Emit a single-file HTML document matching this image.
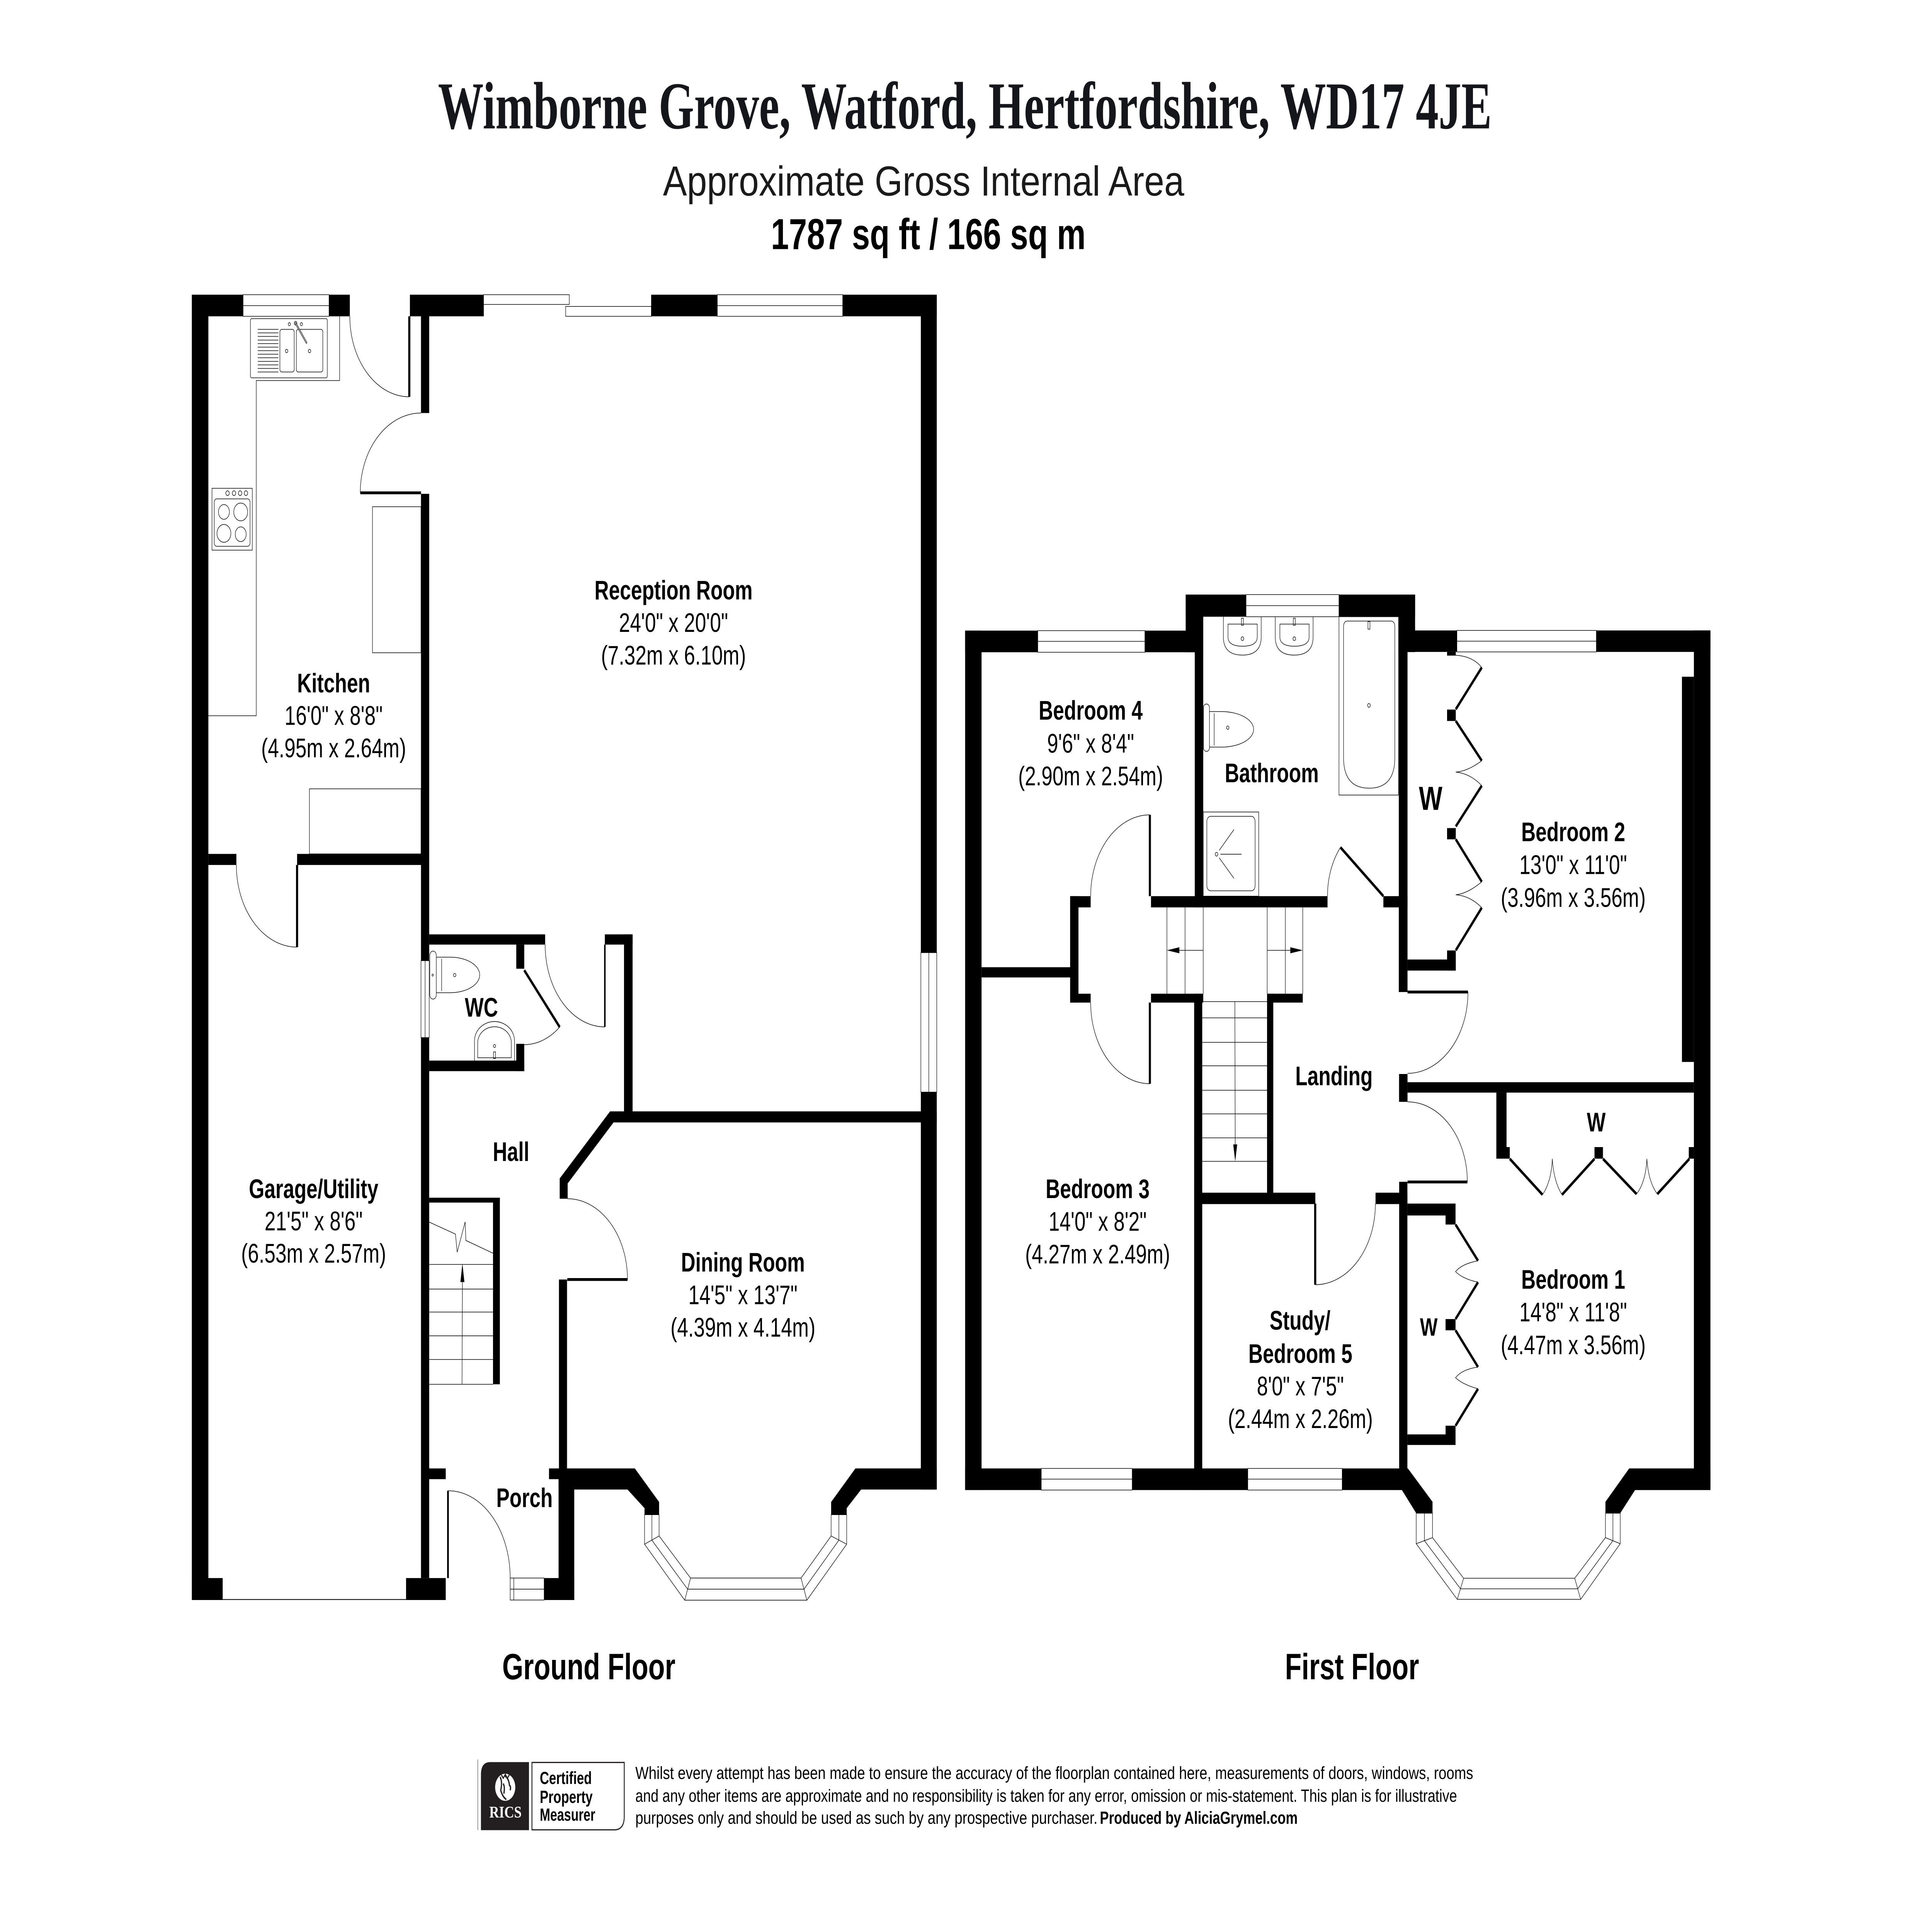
<!DOCTYPE html>
<html><head><meta charset="utf-8">
<style>
html,body{margin:0;padding:0;background:#fff;width:100%;height:100%;overflow:hidden;}
svg{display:block;position:absolute;left:0;top:0;width:100vw;height:100vh;}
.t{fill:none;stroke:#000;stroke-width:0.35}
.lf{fill:none;stroke:#000;stroke-width:1.7}
.wn{fill:#fff;stroke:#000;stroke-width:0.35}
text{font-family:"Liberation Sans",Arial,sans-serif;fill:#000}
.rn{font-weight:bold;font-size:16px}
.dm{font-size:16px}
</style></head><body>
<svg width="6736" height="4955" viewBox="0 0 1553 1142.4" preserveAspectRatio="none" xmlns="http://www.w3.org/2000/svg">
<rect x="0" y="0" width="1553" height="1142.4" fill="#fff"/>

<!-- TITLE -->
<text x="775.6" y="76.6" text-anchor="middle" style="font-family:'Liberation Serif','Times New Roman',serif;font-weight:bold;font-size:40px;fill:#15151c" textLength="847" lengthAdjust="spacingAndGlyphs">Wimborne Grove, Watford, Hertfordshire, WD17 4JE</text>
<text x="742.4" y="116.7" text-anchor="middle" style="font-size:25px;fill:#1a1a1a" textLength="419" lengthAdjust="spacingAndGlyphs">Approximate Gross Internal Area</text>
<text x="746.2" y="148.6" text-anchor="middle" style="font-size:26px;font-weight:bold" textLength="253" lengthAdjust="spacingAndGlyphs">1787 sq ft / 166 sq m</text>

<!-- ================= GROUND FLOOR ================= -->
<rect class="wn" x="195.4" y="175.8" width="69.1" height="12.9"/>
<line class="t" x1="195.4" y1="182.3" x2="264.5" y2="182.3"/>
<rect class="wn" x="388.7" y="175.8" width="68.9" height="5.8"/>
<rect class="wn" x="454.7" y="182.8" width="68.9" height="5.9"/>
<line class="t" x1="388.7" y1="175.8" x2="388.7" y2="188.7"/>
<line class="t" x1="523.6" y1="175.8" x2="523.6" y2="188.7"/>
<rect class="wn" x="576.6" y="175.8" width="100.8" height="12.9"/>
<line class="t" x1="576.6" y1="182.3" x2="677.4" y2="182.3"/>
<rect class="wn" x="740.2" y="568.3" width="12.8" height="83.2"/>
<line class="t" x1="746.6" y1="568.3" x2="746.6" y2="651.5"/>
<rect class="wn" x="338.4" y="573.1" width="6.6" height="45.9"/>
<line class="t" x1="341.7" y1="573.1" x2="341.7" y2="619"/>
<rect class="wn" x="410.1" y="941.4" width="27.3" height="13.1"/>
<line class="t" x1="410.1" y1="948" x2="437.4" y2="948"/>
<line class="t" x1="413" y1="941.4" x2="413" y2="954.5"/>
<line x1="179" y1="954.2" x2="326.4" y2="954.2" stroke="#000" stroke-width="0.5"/>

<polygon fill="#fff" stroke="#000" stroke-width="0.35" points="518.1,903.6 518.1,921.2 550.4,954.6 648.6,954.6 680.6,921.2 680.6,903.6 668.1,903.6 668.1,916.3 643.9,941.4 555.1,941.4 529.8,916.3 529.8,903.6"/>
<polyline class="t" points="524,903.6 524,918.8 552.7,948 646.3,948 674.3,918.8 674.3,903.6"/>
<line class="t" x1="518.1" y1="921.2" x2="529.8" y2="916.3"/>
<line class="t" x1="550.4" y1="954.6" x2="555.1" y2="941.4"/>
<line class="t" x1="648.6" y1="954.6" x2="643.9" y2="941.4"/>
<line class="t" x1="680.6" y1="921.2" x2="668.1" y2="916.3"/>

<g fill="#000">
<rect x="154.2" y="175.8" width="13.3" height="778.7"/>
<rect x="154.2" y="175.8" width="41.2" height="12.9"/>
<rect x="264.5" y="175.8" width="16.7" height="12.9"/>
<rect x="329.5" y="175.8" width="59.2" height="12.9"/>
<rect x="338.4" y="175.8" width="6.6" height="70.6"/>
<rect x="523.6" y="175.8" width="53" height="12.9"/>
<rect x="677.4" y="175.8" width="75.6" height="12.9"/>
<rect x="740.2" y="175.8" width="12.8" height="392.5"/>
<rect x="740.2" y="651.5" width="12.8" height="237.1"/>
<rect x="338.4" y="294.6" width="6.6" height="278.5"/>
<rect x="338.4" y="619" width="6.6" height="322.4"/>
<rect x="167.5" y="509.4" width="22.5" height="6.6"/>
<rect x="238.8" y="509.4" width="99.6" height="6.6"/>
<rect x="345" y="557.4" width="93.2" height="6.1"/>
<rect x="486.2" y="557.4" width="22.3" height="6.1"/>
<rect x="501.6" y="557.4" width="6.9" height="106"/>
<rect x="415" y="563.5" width="6.4" height="14.4"/>
<rect x="415" y="622.7" width="6.4" height="16.3"/>
<rect x="345" y="632.7" width="76.4" height="6.3"/>
<polygon points="490.4,663 753,663 753,669.6 493.2,669.6 456.3,706 456.3,715.1 449.9,715.1 449.9,703"/>
<rect x="449.3" y="763.3" width="6.5" height="112.7"/>
<rect x="345" y="714.5" width="56.8" height="2.9"/>
<rect x="396.3" y="714.5" width="5.5" height="111.3"/>
<rect x="338.4" y="876" width="19.9" height="6.4"/>
<rect x="441.3" y="876" width="20.3" height="6.4"/>
<rect x="449" y="876" width="12.6" height="78.5"/>
<polygon points="449,876 510.3,876 529.8,896 529.8,903.6 518.1,903.6 518.1,899.7 504.4,888.6 449,888.6"/>
<polygon points="687.6,876 753,876 753,888.6 692.2,888.6 680.6,899.7 680.6,903.6 668.1,903.6 668.1,896"/>
<rect x="154.2" y="941.4" width="24.8" height="13.1"/>
<rect x="326.4" y="941.4" width="31.9" height="13.1"/>
<rect x="437.4" y="941.4" width="24.2" height="13.1"/>
</g>

<line class="lf" x1="329" y1="188.7" x2="329" y2="236.7"/>
<path class="t" d="M281.2,188.7 A47.8,48 0 0 0 329,236.7"/>
<line class="lf" x1="289.6" y1="294" x2="338.4" y2="294"/>
<path class="t" d="M289.6,294 A48.8,47.6 0 0 1 338.4,246.4"/>
<line class="lf" x1="238.8" y1="516" x2="238.8" y2="565"/>
<path class="t" d="M190,516 A48.8,49 0 0 0 238.8,565"/>
<line x1="486.2" y1="563.5" x2="486.2" y2="612.6" stroke="#000" stroke-width="1.2"/>
<path class="t" d="M438.2,563.5 A48,49.1 0 0 0 486.2,612.6"/>
<line class="lf" x1="421.4" y1="578.8" x2="449.9" y2="612.7"/>
<path class="t" d="M449.9,612.7 A44.3,44.3 0 0 1 421.4,623.2"/>
<line class="lf" x1="456" y1="763.3" x2="504.4" y2="763.3"/>
<path class="t" d="M504.4,763.3 A48.4,48.2 0 0 0 456,715.1"/>
<line x1="360.1" y1="941.4" x2="360.1" y2="889.3" stroke="#000" stroke-width="1.4"/>
<path class="t" d="M360.3,889.3 A49.8,52.1 0 0 1 410.1,941.4"/>

<polyline class="t" points="273,188.7 273,227 206,227 206,427 167.5,427"/>
<rect class="t" x="201.3" y="190.1" width="61.8" height="35.3" rx="1"/>
<g class="t">
<line x1="207.2" y1="196.5" x2="223.8" y2="196.5"/><line x1="207.2" y1="198.6" x2="223.8" y2="198.6"/>
<line x1="207.2" y1="200.7" x2="223.8" y2="200.7"/><line x1="207.2" y1="202.9" x2="223.8" y2="202.9"/>
<line x1="207.2" y1="205" x2="223.8" y2="205"/><line x1="207.2" y1="207.1" x2="223.8" y2="207.1"/>
<line x1="207.2" y1="209.2" x2="223.8" y2="209.2"/><line x1="207.2" y1="211.3" x2="223.8" y2="211.3"/>
<line x1="207.2" y1="213.4" x2="223.8" y2="213.4"/><line x1="207.2" y1="215.6" x2="223.8" y2="215.6"/>
<line x1="207.2" y1="217.7" x2="223.8" y2="217.7"/><line x1="207.2" y1="219.8" x2="223.8" y2="219.8"/>
<line x1="207.2" y1="221.9" x2="223.8" y2="221.9"/>
</g>
<rect class="t" x="225" y="196.5" width="11.5" height="25.4" rx="1.5"/>
<rect class="t" x="238.2" y="196.5" width="21.3" height="25.4" rx="1.5"/>
<circle class="t" cx="230.4" cy="209.4" r="1"/>
<circle class="t" cx="248.8" cy="209.4" r="1"/>
<circle class="t" cx="232.6" cy="193.4" r="0.9"/>
<circle class="t" cx="237.6" cy="192.8" r="1.1"/>
<circle class="t" cx="242.3" cy="193.4" r="0.9"/>
<line x1="237.6" y1="192.8" x2="246.3" y2="204.4" stroke="#000" stroke-width="1.1" stroke-linecap="round"/>
<line x1="237.6" y1="192.8" x2="246.3" y2="204.4" stroke="#fff" stroke-width="0.4" stroke-linecap="round"/>
<rect class="t" x="170.4" y="291.3" width="32.4" height="36.9"/>
<rect class="t" x="172.2" y="297.6" width="28.8" height="28.3" rx="2"/>
<circle class="t" cx="182.9" cy="294.2" r="1.4"/><circle class="t" cx="188.1" cy="294.2" r="1.4"/>
<circle class="t" cx="193" cy="294.2" r="1.4"/><circle class="t" cx="197.7" cy="294.2" r="1.4"/>
<ellipse class="t" cx="180" cy="305.4" rx="4.4" ry="4.4"/>
<ellipse class="t" cx="193.5" cy="305.4" rx="5.6" ry="5.3"/>
<ellipse class="t" cx="180" cy="318.2" rx="5.6" ry="5.3"/>
<ellipse class="t" cx="193.5" cy="318.7" rx="4.4" ry="4.4"/>
<rect class="t" x="299.4" y="302.3" width="39" height="87.1"/>
<rect class="t" x="248.7" y="470.6" width="89.7" height="38.8"/>

<rect class="t" x="345.5" y="567.4" width="5.2" height="28.6" rx="2.5"/>
<path class="t" d="M350.7,571 H362 A23.6,10.6 0 0 1 362,592.2 H350.7"/>
<line class="t" x1="355" y1="572" x2="355" y2="591.2"/>
<circle class="t" cx="365.5" cy="581.7" r="1"/>
<circle class="t" cx="347.8" cy="581.7" r="0.6"/>
<path class="t" d="M381.4,632.7 V621 A16.1,11.6 0 0 1 413.6,621 V632.7"/>
<path class="t" d="M384,631 V622 A13.5,9.5 0 0 1 411,622 V631 Z"/>
<circle class="t" cx="397.5" cy="624" r="0.9"/>
<rect class="t" x="396.7" y="627.5" width="1.6" height="4"/>

<g class="t">
<line x1="345" y1="754.3" x2="396.3" y2="754.3"/>
<line x1="345" y1="769" x2="396.3" y2="769"/>
<line x1="345" y1="782.7" x2="396.3" y2="782.7"/>
<line x1="345" y1="796.9" x2="396.3" y2="796.9"/>
<line x1="345" y1="811" x2="396.3" y2="811"/>
<line x1="345" y1="825.8" x2="396.3" y2="825.8"/>
<polyline points="344.6,728.9 366.1,736.2 367.5,747 373.9,728.9 374.5,740 396.3,747.6"/>
<line x1="371.7" y1="764.8" x2="371.4" y2="825.8"/>
</g>
<polygon points="370.1,764.8 373.3,764.8 371.7,753.7" fill="#000"/>

<g text-anchor="middle">
<text class="rn" x="268.2" y="413">Kitchen</text>
<text class="dm" x="268.2" y="432.4">16'0" x 8'8"</text>
<text class="dm" x="268.2" y="451.8">(4.95m x 2.64m)</text>
<text class="rn" x="541.4" y="357.6">Reception Room</text>
<text class="dm" x="541.4" y="377">24'0" x 20'0"</text>
<text class="dm" x="541.4" y="396.4">(7.32m x 6.10m)</text>
<text class="rn" x="387" y="606.5">WC</text>
<text class="rn" x="410.8" y="692.6">Hall</text>
<text class="rn" x="252.1" y="714.7">Garage/Utility</text>
<text class="dm" x="252.1" y="734">21'5" x 8'6"</text>
<text class="dm" x="252.1" y="753.2">(6.53m x 2.57m)</text>
<text class="rn" x="597.2" y="758.5">Dining Room</text>
<text class="dm" x="597.2" y="778">14'5" x 13'7"</text>
<text class="dm" x="597.2" y="797.4">(4.39m x 4.14m)</text>
<text class="rn" x="421.6" y="899.1">Porch</text>
<text x="473.3" y="1001.8" style="font-weight:bold;font-size:21.8px">Ground Floor</text>
<text x="1086.8" y="1001.8" style="font-weight:bold;font-size:21.8px">First Floor</text>
</g>

<!-- ================= FIRST FLOOR ================= -->
<rect class="wn" x="834.2" y="376.2" width="86.1" height="12.9"/>
<line class="t" x1="834.2" y1="382.6" x2="920.3" y2="382.6"/>
<rect class="wn" x="1001.6" y="354.7" width="74.7" height="13.2"/>
<line class="t" x1="1001.6" y1="361.3" x2="1076.3" y2="361.3"/>
<rect class="wn" x="1171.1" y="376.1" width="112.1" height="12.8"/>
<line class="t" x1="1171.1" y1="382.5" x2="1283.2" y2="382.5"/>
<rect class="wn" x="837" y="876" width="73.1" height="12.9"/>
<line class="t" x1="837" y1="882.4" x2="910.1" y2="882.4"/>
<rect class="wn" x="1003" y="876" width="75.9" height="12.9"/>
<line class="t" x1="1003" y1="882.4" x2="1078.9" y2="882.4"/>

<polygon fill="#fff" stroke="#000" stroke-width="0.35" points="1138.4,902.7 1138.4,920.9 1171.4,954.1 1270.6,954.1 1302.4,920.9 1302.4,902.7 1290.5,902.7 1290.5,917.3 1265.8,941.5 1176.5,941.5 1151.5,917.3 1151.5,902.7"/>
<polyline class="t" points="1145,902.7 1145,919.1 1174,947.8 1268.2,947.8 1296.5,919.1 1296.5,902.7"/>
<line class="t" x1="1138.4" y1="920.9" x2="1151.5" y2="917.3"/>
<line class="t" x1="1171.4" y1="954.1" x2="1176.5" y2="941.5"/>
<line class="t" x1="1270.6" y1="954.1" x2="1265.8" y2="941.5"/>
<line class="t" x1="1302.4" y1="920.9" x2="1290.5" y2="917.3"/>

<g fill="#000">
<rect x="775.8" y="376.2" width="13.2" height="512.7"/>
<rect x="775.8" y="376.2" width="58.4" height="12.9"/>
<rect x="920.3" y="376.2" width="46.9" height="12.9"/>
<rect x="953.1" y="354.7" width="14.1" height="34.4"/>
<rect x="953.1" y="354.7" width="48.5" height="13.2"/>
<rect x="1076.3" y="354.7" width="61.2" height="13.2"/>
<rect x="1124.4" y="354.7" width="13.1" height="34.3"/>
<rect x="1124.4" y="376.1" width="46.7" height="12.8"/>
<rect x="1283.2" y="376.1" width="91.7" height="12.8"/>
<rect x="1361.6" y="376.1" width="13.3" height="512.8"/>
<rect x="1352" y="403.7" width="9.6" height="229.8"/>
<rect x="960.4" y="389" width="6.8" height="152.3"/>
<rect x="1124.4" y="367.9" width="7" height="223.9"/>
<rect x="925.2" y="534.6" width="141.9" height="6.7"/>
<rect x="1112" y="534.6" width="19.4" height="6.7"/>
<rect x="789" y="577" width="71.2" height="6.1"/>
<rect x="860.2" y="534.6" width="6.7" height="63.5"/>
<rect x="860.2" y="534.6" width="16.5" height="6.7"/>
<rect x="860.2" y="592.8" width="16.5" height="5.3"/>
<rect x="925.2" y="592.8" width="42" height="5.3"/>
<rect x="1018.6" y="592.8" width="28.6" height="5.3"/>
<rect x="959.9" y="592.8" width="6.5" height="296.1"/>
<rect x="1018.5" y="592.8" width="5" height="125.5"/>
<rect x="959.9" y="711.5" width="97.4" height="6.8"/>
<rect x="1105.7" y="711.5" width="25.6" height="6.8"/>
<rect x="1124.7" y="705" width="6.6" height="183.9"/>
<rect x="1124.6" y="640.7" width="6.8" height="16.6"/>
<rect x="1131.4" y="645.6" width="230.2" height="6.2"/>
<rect x="1131.4" y="572.4" width="38.8" height="6.6"/>
<rect x="1163.2" y="567" width="7" height="12"/>
<rect x="1163.2" y="423.3" width="7" height="6.8"/>
<rect x="1163.2" y="494" width="7" height="6.7"/>
<rect x="1163.2" y="388.9" width="7" height="2.2"/>
<rect x="1131.3" y="718" width="38.7" height="7.1"/>
<rect x="1162" y="725" width="8" height="5.5"/>
<rect x="1162" y="786.9" width="8" height="6.7"/>
<rect x="1162" y="850.5" width="8" height="5.5"/>
<rect x="1131.3" y="855.7" width="38.7" height="6.3"/>
<rect x="1202.8" y="651.8" width="8.2" height="39.4"/>
<rect x="1202.8" y="684.3" width="10.8" height="6.9"/>
<rect x="1281.7" y="684.3" width="6.8" height="6.9"/>
<rect x="1357.5" y="684.3" width="4.1" height="6.9"/>
<rect x="775.8" y="876" width="61.2" height="12.9"/>
<rect x="910.1" y="876" width="92.9" height="12.9"/>
<rect x="1078.9" y="876" width="52.8" height="12.9"/>
<polygon points="1124.7,876 1131.7,876 1151.5,895.9 1151.5,902.7 1138.4,902.7 1126.9,888.9 1124.7,888.9"/>
<polygon points="1309.6,876 1374.9,876 1374.9,888.9 1314.3,888.9 1302.4,902.7 1290.5,902.7 1290.5,895.9"/>
</g>

<line class="lf" x1="924.3" y1="534.6" x2="924.3" y2="486.1"/>
<path class="t" d="M924.3,486.1 A47.6,48.5 0 0 0 876.7,534.6"/>
<line class="lf" x1="924.3" y1="598.1" x2="924.3" y2="646.5"/>
<path class="t" d="M876.7,598.1 A47.6,48.4 0 0 0 924.3,646.5"/>
<line class="lf" x1="1112" y1="534.6" x2="1077.5" y2="505.5"/>
<path class="t" d="M1077.5,505.5 A45,45 0 0 0 1067.1,534.6"/>
<line class="lf" x1="1131.4" y1="591.8" x2="1180" y2="591.8"/>
<path class="t" d="M1180,591.8 A48.6,48.5 0 0 1 1131.4,640.3"/>
<line class="lf" x1="1131.4" y1="705.1" x2="1179.5" y2="705.1"/>
<path class="t" d="M1179.5,705.1 A48.1,47.8 0 0 0 1131.4,657.3"/>
<line class="lf" x1="1057.2" y1="718" x2="1057.2" y2="766.4"/>
<path class="t" d="M1057.2,766.4 A48.4,48.4 0 0 0 1105.6,718"/>

<g class="lf">
<line x1="1191.1" y1="398.2" x2="1170.2" y2="423.1"/>
<line x1="1170.2" y1="430.1" x2="1191.1" y2="453.8"/>
<line x1="1191.1" y1="468.7" x2="1170.2" y2="493"/>
<line x1="1170.2" y1="500.7" x2="1191.1" y2="526"/>
<line x1="1191.1" y1="541.5" x2="1170.2" y2="566.9"/>
<line x1="1170" y1="730.5" x2="1188.1" y2="752.1"/>
<line x1="1188.1" y1="764.9" x2="1170" y2="786.9"/>
<line x1="1170" y1="793.6" x2="1188.1" y2="815.5"/>
<line x1="1188.1" y1="828.5" x2="1170" y2="850.5"/>
<line x1="1213.6" y1="691.3" x2="1239.9" y2="712.7"/>
<line x1="1255.6" y1="712.7" x2="1281.7" y2="691.3"/>
<line x1="1288.5" y1="691.3" x2="1315.5" y2="712.3"/>
<line x1="1332.2" y1="712.3" x2="1358" y2="691.3"/>
</g>
<g class="t">
<path d="M1170.2,390.9 Q1184,391.5 1191.1,398.2"/>
<path d="M1191.1,453.8 Q1180,460 1170.2,460.6 Q1182,461.5 1191.1,468.7"/>
<path d="M1191.1,526 Q1180,533 1170.2,533.8 Q1182,534.5 1191.1,541.5"/>
<path d="M1188.1,752.1 Q1175,754 1170,758.6 Q1176,763 1188.1,764.9"/>
<path d="M1188.1,815.5 Q1175,817 1170,821.9 Q1176,826 1188.1,828.5"/>
<path d="M1239.9,712.7 Q1247,705 1247.8,691.3 Q1249,705 1255.6,712.7"/>
<path d="M1315.5,712.3 Q1323,705 1323.8,691.3 Q1325,705 1332.2,712.3"/>
</g>

<g class="t">
<path d="M983.4,367.9 V380 Q983.4,390.8 998.6,390.8 Q1013.8,390.8 1013.8,380 V367.9"/>
<path d="M987.1,372.3 H1010.6 V380 Q1010.6,385.5 998.8,385.5 Q987.1,385.5 987.1,380 Z"/>
<circle cx="998.7" cy="381" r="1.1"/>
<rect x="997.9" y="368.8" width="1.6" height="4.2"/>
<path d="M1025.1,367.9 V380 Q1025.1,390.8 1040.3,390.8 Q1055.5,390.8 1055.5,380 V367.9"/>
<path d="M1028.8,372.3 H1052.3 V380 Q1052.3,385.5 1040.5,385.5 Q1028.8,385.5 1028.8,380 Z"/>
<circle cx="1040.4" cy="381" r="1.1"/>
<rect x="1039.6" y="368.8" width="1.6" height="4.2"/>
<rect x="1076.3" y="367.9" width="47.8" height="106.4"/>
<path d="M1083,370.5 H1118 Q1121.2,370.5 1121.2,374 V452 Q1121.2,470.2 1100.6,470.2 Q1080,470.2 1080,452 V374 Q1080,370.5 1083,370.5 Z"/>
<circle cx="1100.4" cy="420.8" r="1.1"/>
<rect x="1099.6" y="370.8" width="1.6" height="4.5"/>
<rect x="967.4" y="420" width="4.8" height="28.2" rx="2.2"/>
<path d="M972.2,424.5 H982 A25.7,10.6 0 0 1 982,445.7 H972.2"/>
<line x1="976" y1="425.5" x2="976" y2="444.8"/>
<circle cx="986.9" cy="434.1" r="1"/>
<rect x="967.2" y="484.4" width="44.6" height="50.2"/>
<rect x="970.1" y="487" width="38.8" height="44.4" rx="3"/>
<circle cx="977.9" cy="509.6" r="1.1"/>
<line x1="981" y1="509.6" x2="998" y2="509.6"/>
<line x1="980" y1="507.3" x2="991.9" y2="494.9"/>
<line x1="980" y1="511.7" x2="991.9" y2="524"/>
</g>

<g class="t">
<line x1="938" y1="541.3" x2="938" y2="592.8"/>
<line x1="952.6" y1="541.3" x2="952.6" y2="592.8"/>
<line x1="967.2" y1="541.3" x2="967.2" y2="592.8"/>
<line x1="1018.6" y1="541.3" x2="1018.6" y2="592.8"/>
<line x1="1033.2" y1="541.3" x2="1033.2" y2="592.8"/>
<line x1="1047.2" y1="541.3" x2="1047.2" y2="592.8"/>
<line x1="967.2" y1="566.9" x2="946" y2="566.9"/>
<line x1="1018.6" y1="566.9" x2="1039" y2="566.9"/>
<line x1="966.4" y1="597.5" x2="1018.5" y2="597.5"/>
<line x1="966.4" y1="607.2" x2="1018.5" y2="607.2"/>
<line x1="966.4" y1="621.8" x2="1018.5" y2="621.8"/>
<line x1="966.4" y1="635.8" x2="1018.5" y2="635.8"/>
<line x1="966.4" y1="650.4" x2="1018.5" y2="650.4"/>
<line x1="966.4" y1="664.5" x2="1018.5" y2="664.5"/>
<line x1="966.4" y1="678.8" x2="1018.5" y2="678.8"/>
<line x1="966.4" y1="692.8" x2="1018.5" y2="692.8"/>
<line x1="992.6" y1="597.5" x2="992.9" y2="684"/>
</g>
<polygon points="938,566.9 948,565.1 948,568.7" fill="#000"/>
<polygon points="1047.2,566.9 1037.2,565.1 1037.2,568.7" fill="#000"/>
<polygon points="991.3,682.7 994.5,682.7 992.9,692.8" fill="#000"/>

<g text-anchor="middle">
<text class="rn" x="876.7" y="429.3">Bedroom 4</text>
<text class="dm" x="876.7" y="449">9'6" x 8'4"</text>
<text class="dm" x="876.7" y="468.5">(2.90m x 2.54m)</text>
<text class="rn" x="1022.3" y="466.7">Bathroom</text>
<text x="1150" y="483.1" style="font-weight:bold;font-size:20px">W</text>
<text class="rn" x="1264.6" y="501.8">Bedroom 2</text>
<text class="dm" x="1264.6" y="521.4">13'0" x 11'0"</text>
<text class="dm" x="1264.6" y="541">(3.96m x 3.56m)</text>
<text class="rn" x="1072.3" y="647.4">Landing</text>
<text x="1283.1" y="675" style="font-weight:bold;font-size:16px">W</text>
<text class="rn" x="882.3" y="714.7">Bedroom 3</text>
<text class="dm" x="882.3" y="734.2">14'0" x 8'2"</text>
<text class="dm" x="882.3" y="753.7">(4.27m x 2.49m)</text>
<text class="rn" x="1264.6" y="768.8">Bedroom 1</text>
<text class="dm" x="1264.6" y="788.3">14'8" x 11'8"</text>
<text class="dm" x="1264.6" y="807.9">(4.47m x 3.56m)</text>
<text x="1148.5" y="796.8" style="font-weight:bold;font-size:15px">W</text>
<text class="rn" x="1045" y="793.2">Study/</text>
<text class="rn" x="1045.3" y="813.1">Bedroom 5</text>
<text class="dm" x="1045.3" y="832.4">8'0" x 7'5"</text>
<text class="dm" x="1045.3" y="851.9">(2.44m x 2.26m)</text>
</g>

<!-- FOOTER -->
<line x1="384.1" y1="1049.6" x2="384.1" y2="1091.7" stroke="#333" stroke-width="0.3"/>
<path d="M394,1051.2 H425.2 V1091.8 H386.6 V1058.6 Q386.6,1051.2 394,1051.2 Z" fill="#231f20"/>
<circle cx="406.1" cy="1066.2" r="8.1" fill="#fff"/>
<path d="M402,1060 Q404,1063 402.5,1068 Q404,1072 407,1073.5 M406,1059.5 Q409,1061 409.5,1065 Q411,1066 410,1068 M404.5,1064 Q406,1066 405,1070" fill="none" stroke="#231f20" stroke-width="1"/>
<path d="M403,1058.8 L404.5,1060.8 L406.2,1058.5 L407.8,1060.8 L409.4,1058.8" fill="none" stroke="#231f20" stroke-width="0.8"/>
<text x="393.3" y="1084.3" style="font-family:'Liberation Serif',serif;font-weight:bold;font-size:9.8px;fill:#fff" textLength="26" lengthAdjust="spacingAndGlyphs">RICS</text>
<path d="M427.6,1051.4 H501.8 V1083.6 Q501.8,1091.6 493.8,1091.6 H427.6 Z" fill="#fff" stroke="#231f20" stroke-width="0.7"/>
<g style="font-weight:bold;font-size:10.5px;fill:#231f20">
<text x="433.9" y="1064.3" textLength="41.8" lengthAdjust="spacingAndGlyphs">Certified</text>
<text x="433.9" y="1075.5" textLength="42.5" lengthAdjust="spacingAndGlyphs">Property</text>
<text x="433.9" y="1086.2" textLength="44.6" lengthAdjust="spacingAndGlyphs">Measurer</text>
</g>
<g style="font-size:10.5px;fill:#1a1a1a">
<text x="510.7" y="1061.2" textLength="673.5" lengthAdjust="spacingAndGlyphs">Whilst every attempt has been made to ensure the accuracy of the floorplan contained here, measurements of doors, windows, rooms</text>
<text x="510.7" y="1074.9" textLength="660.5" lengthAdjust="spacingAndGlyphs">and any other items are approximate and no responsibility is taken for any error, omission or mis-statement. This plan is for illustrative</text>
<text x="510.7" y="1088" textLength="371.5" lengthAdjust="spacingAndGlyphs">purposes only and should be used as such by any prospective purchaser.</text>
<text x="884.1" y="1088" style="font-weight:bold" textLength="159" lengthAdjust="spacingAndGlyphs">Produced by AliciaGrymel.com</text>
</g>
</svg>
</body></html>
